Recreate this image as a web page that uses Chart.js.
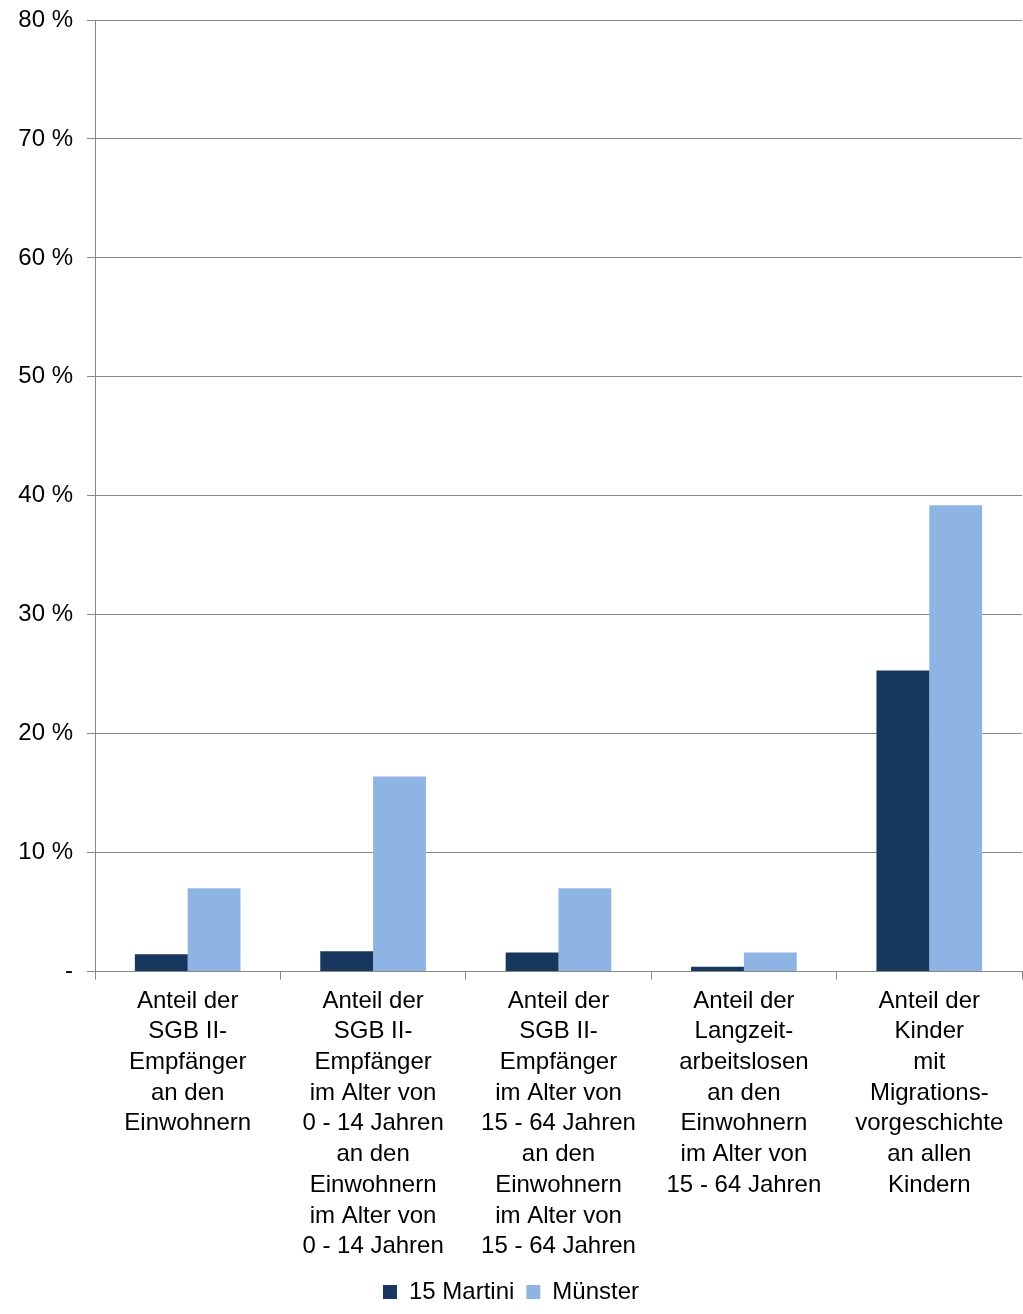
<!DOCTYPE html>
<html><head><meta charset="utf-8">
<script src="https://cdn.jsdelivr.net/npm/chart.js@4"></script>
<style>html,body{margin:0;background:#fff}#wrap{width:1023px;height:1314px}</style>
</head><body><div id="wrap"><canvas id="c"></canvas></div>
<script>
const categories = [
  ["Anteil der", "SGB II-", "Empfänger", "an den", "Einwohnern"],
  ["Anteil der", "SGB II-", "Empfänger", "im Alter von", "0 - 14 Jahren", "an den", "Einwohnern", "im Alter von", "0 - 14 Jahren"],
  ["Anteil der", "SGB II-", "Empfänger", "im Alter von", "15 - 64 Jahren", "an den", "Einwohnern", "im Alter von", "15 - 64 Jahren"],
  ["Anteil der", "Langzeit-", "arbeitslosen", "an den", "Einwohnern", "im Alter von", "15 - 64 Jahren"],
  ["Anteil der", "Kinder", "mit", "Migrations-", "vorgeschichte", "an allen", "Kindern"]
];
const martini = [1.45, 1.7, 1.6, 0.4, 25.3];
const muenster = [7.0, 16.4, 7.0, 1.6, 39.2];
const yTicks = [0, 10, 20, 30, 40, 50, 60, 70, 80];

Chart.defaults.font.family = "'Liberation Sans', Arial, sans-serif";
Chart.defaults.font.size = 24;
Chart.defaults.color = "#000";

new Chart(document.getElementById("c"), {
  type: "bar",
  data: {
    labels: categories,
    datasets: [
      { label: "15 Martini", data: martini, backgroundColor: "#17375E" },
      { label: "Münster", data: muenster, backgroundColor: "#8EB4E3" }
    ]
  },
  options: {
    responsive: true,
    maintainAspectRatio: false,
    animation: false,
    layout: { padding: { top: 3, right: 1, left: 0, bottom: 0 } },
    datasets: { bar: { categoryPercentage: 0.57, barPercentage: 1 } },
    plugins: {
      legend: {
        position: "bottom",
        labels: { boxWidth: 14, boxHeight: 14, padding: 12, font: { size: 24 } }
      },
      tooltip: { enabled: false }
    },
    scales: {
      x: {
        grid: { display: true, drawOnChartArea: false, offset: true, tickLength: 8, color: "#888" },
        border: { color: "#888" },
        ticks: { maxRotation: 0, autoSkip: false, padding: 6, font: { lineHeight: 1.28 } }
      },
      y: {
        min: 0, max: 80,
        afterFit: s => { s.width = 95; s.paddingTop = 20; },
        afterBuildTicks: s => { s.ticks = yTicks.map(v => ({ value: v })); },
        grid: { color: "#888", tickLength: 8 },
        border: { color: "#888" },
        ticks: { padding: 14, callback: v => v === 0 ? "-" : v + " %" }
      }
    }
  }
});
</script></body></html>
